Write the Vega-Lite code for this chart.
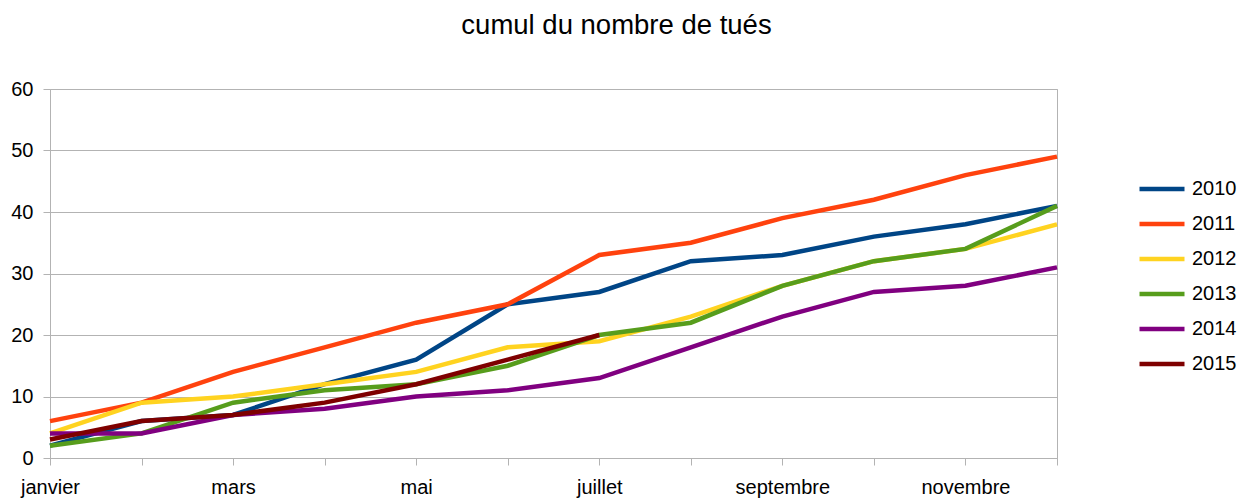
{
  "$schema": "https://vega.github.io/schema/vega-lite/v6.json",
  "autosize": "none",
  "padding": {"left": 50, "top": 89, "right": 180, "bottom": 42},
  "width": 1007,
  "height": 369,
  "background": "white",
  "title": {"text": "cumul du nombre de tués", "fontSize": 27.5, "fontWeight": "normal", "font": "Liberation Sans", "color": "#000000", "anchor": "middle", "frame": "group", "dx": 63, "offset": 40},
  "config": {
    "font": "Liberation Sans",
    "view": {"stroke": "#b3b3b3", "strokeWidth": 1}
  },
  "datasets": {
    "tues": [
      {"mois": "janvier", "annee": "2010", "cumul": 2},
      {"mois": "février", "annee": "2010", "cumul": 6},
      {"mois": "mars", "annee": "2010", "cumul": 7},
      {"mois": "avril", "annee": "2010", "cumul": 12},
      {"mois": "mai", "annee": "2010", "cumul": 16},
      {"mois": "juin", "annee": "2010", "cumul": 25},
      {"mois": "juillet", "annee": "2010", "cumul": 27},
      {"mois": "août", "annee": "2010", "cumul": 32},
      {"mois": "septembre", "annee": "2010", "cumul": 33},
      {"mois": "octobre", "annee": "2010", "cumul": 36},
      {"mois": "novembre", "annee": "2010", "cumul": 38},
      {"mois": "décembre", "annee": "2010", "cumul": 41},
      {"mois": "janvier", "annee": "2011", "cumul": 6},
      {"mois": "février", "annee": "2011", "cumul": 9},
      {"mois": "mars", "annee": "2011", "cumul": 14},
      {"mois": "avril", "annee": "2011", "cumul": 18},
      {"mois": "mai", "annee": "2011", "cumul": 22},
      {"mois": "juin", "annee": "2011", "cumul": 25},
      {"mois": "juillet", "annee": "2011", "cumul": 33},
      {"mois": "août", "annee": "2011", "cumul": 35},
      {"mois": "septembre", "annee": "2011", "cumul": 39},
      {"mois": "octobre", "annee": "2011", "cumul": 42},
      {"mois": "novembre", "annee": "2011", "cumul": 46},
      {"mois": "décembre", "annee": "2011", "cumul": 49},
      {"mois": "janvier", "annee": "2012", "cumul": 4},
      {"mois": "février", "annee": "2012", "cumul": 9},
      {"mois": "mars", "annee": "2012", "cumul": 10},
      {"mois": "avril", "annee": "2012", "cumul": 12},
      {"mois": "mai", "annee": "2012", "cumul": 14},
      {"mois": "juin", "annee": "2012", "cumul": 18},
      {"mois": "juillet", "annee": "2012", "cumul": 19},
      {"mois": "août", "annee": "2012", "cumul": 23},
      {"mois": "septembre", "annee": "2012", "cumul": 28},
      {"mois": "octobre", "annee": "2012", "cumul": 32},
      {"mois": "novembre", "annee": "2012", "cumul": 34},
      {"mois": "décembre", "annee": "2012", "cumul": 38},
      {"mois": "janvier", "annee": "2013", "cumul": 2},
      {"mois": "février", "annee": "2013", "cumul": 4},
      {"mois": "mars", "annee": "2013", "cumul": 9},
      {"mois": "avril", "annee": "2013", "cumul": 11},
      {"mois": "mai", "annee": "2013", "cumul": 12},
      {"mois": "juin", "annee": "2013", "cumul": 15},
      {"mois": "juillet", "annee": "2013", "cumul": 20},
      {"mois": "août", "annee": "2013", "cumul": 22},
      {"mois": "septembre", "annee": "2013", "cumul": 28},
      {"mois": "octobre", "annee": "2013", "cumul": 32},
      {"mois": "novembre", "annee": "2013", "cumul": 34},
      {"mois": "décembre", "annee": "2013", "cumul": 41},
      {"mois": "janvier", "annee": "2014", "cumul": 4},
      {"mois": "février", "annee": "2014", "cumul": 4},
      {"mois": "mars", "annee": "2014", "cumul": 7},
      {"mois": "avril", "annee": "2014", "cumul": 8},
      {"mois": "mai", "annee": "2014", "cumul": 10},
      {"mois": "juin", "annee": "2014", "cumul": 11},
      {"mois": "juillet", "annee": "2014", "cumul": 13},
      {"mois": "août", "annee": "2014", "cumul": 18},
      {"mois": "septembre", "annee": "2014", "cumul": 23},
      {"mois": "octobre", "annee": "2014", "cumul": 27},
      {"mois": "novembre", "annee": "2014", "cumul": 28},
      {"mois": "décembre", "annee": "2014", "cumul": 31},
      {"mois": "janvier", "annee": "2015", "cumul": 3},
      {"mois": "février", "annee": "2015", "cumul": 6},
      {"mois": "mars", "annee": "2015", "cumul": 7},
      {"mois": "avril", "annee": "2015", "cumul": 9},
      {"mois": "mai", "annee": "2015", "cumul": 12},
      {"mois": "juin", "annee": "2015", "cumul": 16},
      {"mois": "juillet", "annee": "2015", "cumul": 20}
    ]
  },
  "data": {"name": "tues"},
  "mark": {"type": "line", "strokeCap": "butt", "strokeJoin": "miter"},
  "encoding": {
    "x": {
      "field": "mois", "type": "ordinal",
      "sort": ["janvier", "février", "mars", "avril", "mai", "juin", "juillet", "août", "septembre", "octobre", "novembre", "décembre"],
      "scale": {"type": "point", "padding": 0},
      "axis": {
        "title": null, "labelAngle": 0, "grid": false,
        "domainColor": "#b3b3b3", "tickColor": "#b3b3b3", "tickSize": 7,
        "labelFontSize": 20, "labelColor": "#000000", "labelPadding": 12,
        "labelBaseline": "top", "labelOverlap": false, "labelBound": false, "labelFlush": false,
        "labelExpr": "indexof(['janvier','mars','mai','juillet','septembre','novembre'], datum.label) >= 0 ? datum.label : ''"
      }
    },
    "y": {
      "field": "cumul", "type": "quantitative",
      "scale": {"domain": [0, 60], "nice": false},
      "axis": {
        "title": null, "values": [0, 10, 20, 30, 40, 50, 60],
        "gridColor": "#b3b3b3", "domainColor": "#b3b3b3", "tickColor": "#b3b3b3", "tickSize": 7,
        "labelFontSize": 20, "labelColor": "#000000", "labelPadding": 10
      }
    },
    "color": {
      "field": "annee", "type": "nominal",
      "scale": {"domain": ["2010", "2011", "2012", "2013", "2014", "2015"], "range": ["#004586", "#ff420e", "#ffd320", "#579d1c", "#800080", "#7e0000"]},
      "legend": {
        "title": null, "orient": "none", "legendX": 1087, "legendY": 75,
        "symbolType": "stroke", "symbolSize": 2025, "labelFontSize": 20, "labelColor": "#000000",
        "labelOffset": 5, "rowPadding": -0.2
      }
    },
    "strokeWidth": {
      "field": "annee", "type": "nominal",
      "scale": {"domain": ["2010", "2011", "2012", "2013", "2014", "2015"], "range": [4.5, 4.5, 4.5, 4.5, 3, 3]},
      "legend": null
    }
  }
}
